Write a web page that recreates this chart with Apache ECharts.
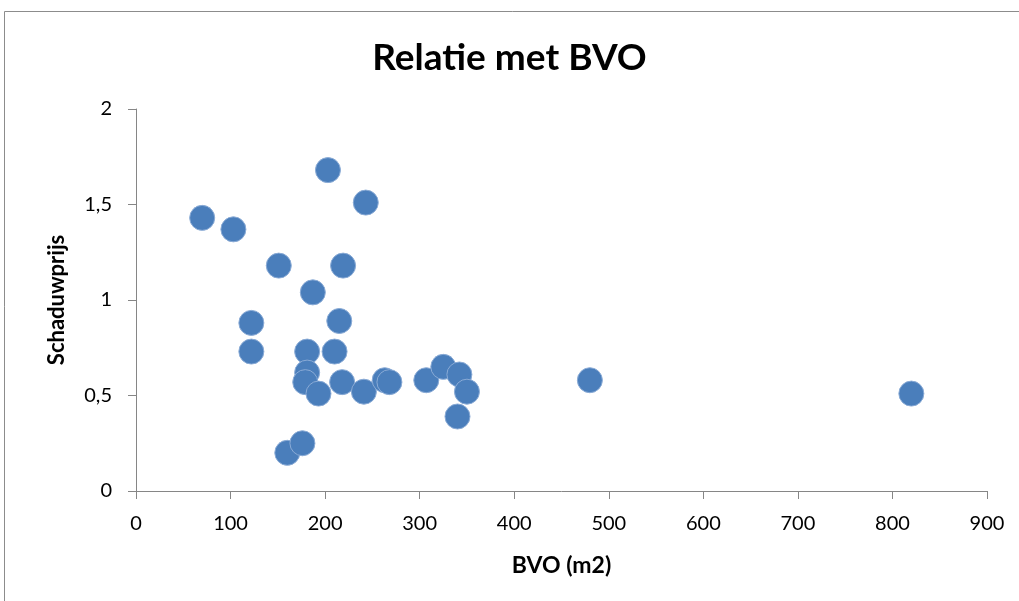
<!DOCTYPE html>
<html>
<head>
<meta charset="utf-8">
<title>Relatie met BVO</title>
<script src="https://cdn.jsdelivr.net/npm/echarts@6/dist/echarts.min.js"></script>
<style>
  html, body { margin: 0; padding: 0; background: #ffffff; }
  #chart { width: 1019px; height: 601px; }
</style>
</head>
<body>
<div id="chart"></div>
<script>
// BVO (m2) per object
const bvo = [70, 103, 151, 203, 243, 219, 187, 215, 122, 122, 181, 210, 181, 179,
             193, 218, 241, 263, 268, 307, 325, 342, 350, 340, 480, 820, 160, 176];
// Schaduwprijs per object
const schaduwprijs = [1.43, 1.37, 1.18, 1.68, 1.51, 1.18, 1.04, 0.89, 0.88, 0.73, 0.73, 0.73, 0.62, 0.57,
                      0.51, 0.57, 0.52, 0.58, 0.57, 0.58, 0.65, 0.61, 0.52, 0.39, 0.58, 0.51, 0.20, 0.25];

const xTicks = { min: 0, max: 900, interval: 100 };
const yTicks = { min: 0, max: 2, interval: 0.5 };

const points = bvo.map((x, i) => [x, schaduwprijs[i]]);

const font = 'Lato, "Noto Sans", sans-serif';
const axisGrey = '#868686';

const chart = echarts.init(document.getElementById('chart'), null, { renderer: 'canvas' });
chart.setOption({
  backgroundColor: '#ffffff',
  animation: false,
  title: {
    text: 'Relatie met BVO',
    left: 'center',
    top: 35,
    textStyle: { fontFamily: font, fontSize: 37, fontWeight: 'bold', color: '#000000' }
  },
  graphic: [{
    type: 'rect',
    shape: { x: 4.5, y: 11.5, width: 1100, height: 700 },
    style: { fill: 'none', stroke: '#8c8c8c', lineWidth: 1 },
    silent: true
  }],
  grid: { left: 136, right: 32, top: 109, bottom: 110 },
  xAxis: {
    type: 'value',
    min: xTicks.min, max: xTicks.max, interval: xTicks.interval,
    name: 'BVO (m2)',
    nameLocation: 'middle',
    nameGap: 63,
    nameTextStyle: { fontFamily: font, fontSize: 23, fontWeight: 'bold', color: '#000000' },
    axisLine: { show: true, onZero: false, lineStyle: { color: axisGrey, width: 1 } },
    axisTick: { show: true, inside: false, length: 8, lineStyle: { color: axisGrey } },
    axisLabel: { margin: 23, fontFamily: font, fontSize: 20, color: '#000000' },
    splitLine: { show: false }
  },
  yAxis: {
    type: 'value',
    min: yTicks.min, max: yTicks.max, interval: yTicks.interval,
    name: 'Schaduwprijs',
    nameLocation: 'middle',
    nameGap: 68,
    nameRotate: 90,
    nameTextStyle: { fontFamily: font, fontSize: 22, fontWeight: 'bold', color: '#000000' },
    axisLine: { show: true, onZero: false, lineStyle: { color: axisGrey, width: 1 } },
    axisTick: { show: true, inside: false, length: 8, lineStyle: { color: axisGrey } },
    axisLabel: {
      margin: 24, fontFamily: font, fontSize: 20, color: '#000000',
      formatter: v => String(v).replace('.', ',')
    },
    splitLine: { show: false }
  },
  series: [{
    type: 'scatter',
    data: points,
    symbol: 'circle',
    symbolSize: 25,
    itemStyle: { color: '#4a7ebb', opacity: 1, borderColor: '#8aabd6', borderWidth: 1 }
  }]
});
</script>
</body>
</html>
